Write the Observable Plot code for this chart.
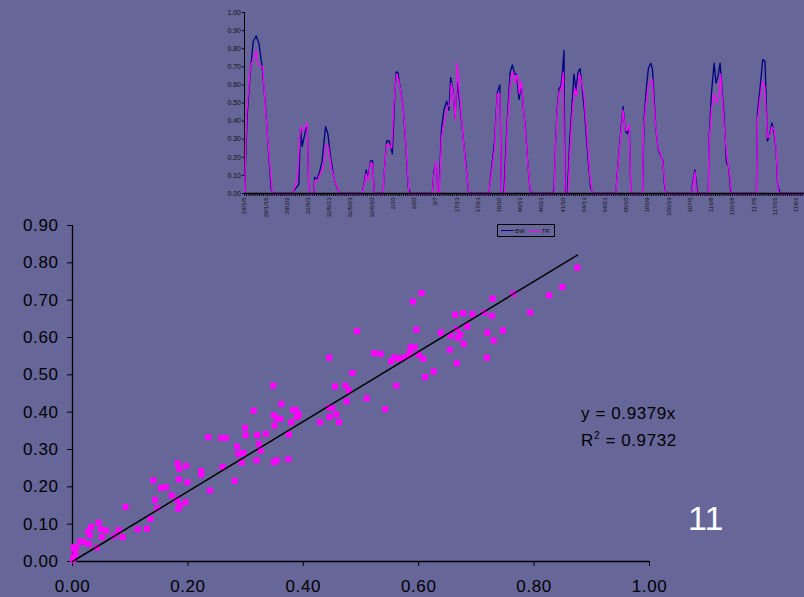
<!DOCTYPE html>
<html><head><meta charset="utf-8">
<script src="https://cdn.jsdelivr.net/npm/d3@7"></script>
<script src="https://cdn.jsdelivr.net/npm/@observablehq/plot@0.6"></script>
<style>
html,body{margin:0;padding:0;background:#666699;}
#wrap{position:relative;width:804px;height:597px;overflow:hidden;background:#666699;font-family:"Liberation Sans",Arial,sans-serif;}
#wrap svg{position:absolute;left:0;top:0;}
#legend{position:absolute;left:497px;top:224px;width:56px;height:11px;border:1px solid #000;font-size:6px;color:#111;display:flex;align-items:center;box-sizing:content-box;}
#legend .ln{display:inline-block;width:13px;height:0;margin:0 1px 0 3px;}
.ann{position:absolute;font-size:17px;line-height:17px;color:#000;letter-spacing:0.6px;white-space:nowrap;}
</style></head><body><div id="wrap"></div>
<script>
// ---------- top time-series chart data ----------
const topTickLabels = ["29/1/5","29/1/15","29/2/2","32/5/3","32/5/13","32/5/23","32/6/10","2/10","2/20","3/7","17/13","17/23","18/10","40/13","40/23","41/10","64/13","64/23","65/10","106/9","106/19","107/6","116/8","116/18","117/5","117/15","118/2"];
const topSteps = 264;
const bwIdx = [0,1.3,2.8,4.1,5.5,6.8,8.3,9.9,11.5,12.6,13.5, 22.6,23.6,25.6,26.4,27.2,28.8,29.6,30.3, 32.7,33.0,34.3,35.5,36.6,38.2,39.3,40.6,42.1,43.7,44.8, 55.5,56.3,57.4,58.2,59.4,60.4,61.2, 65.4,65.7,67.0,68.2,69.7,70.8,71.5,72.3,73.6,74.8,75.9,77.2,78.3, 88.5,89.3,90.4,91.2,91.7,92.8,94.0,95.3,96.4,97.2,98.3,99.2,100.3,101.4,102.7,104.2,105.5,106.3, 115.3,116.0,117.9,119.2,120.4,121.1,122.3,123.6,125.2,126.3,127.4,128.3,129.4,130.5,131.4,132.5,133.6,134.6,135.4, 145.4,145.9,147.2,148.3,149.1,149.8,150.6,151.1,152.2,153.3,154.4,155.3,156.3,157.2,158.2,159.3,160.4,161.9,163.2,164.3, 175.0,175.8,177.4,178.5,179.4,180.5,181.4,182.1, 187.6,188.4,189.5,190.4,191.5,192.3,193.1,193.9,195.0,196.2,197.2,198.1,198.9, 210.7,211.2,212.3,213.1,213.5, 218.6,219.0,220.1,221.4,222.3,223.3,224.2,225.0,226.1,227.2,228.2,229.2,230.0, 241.3,241.8,243.1,244.3,245.4,246.5,247.3,248.6,249.7,250.6,251.3,252.5, 264];
const bwVal = [0,0.44,0.68,0.84,0.87,0.83,0.70,0.48,0.20,0.02,0, 0,0.02,0.05,0.36,0.26,0.35,0.38,0, 0,0.09,0.08,0.125,0.18,0.37,0.33,0.20,0.09,0.03,0, 0,0.05,0.13,0.08,0.18,0.18,0, 0,0.09,0.29,0.29,0.22,0.53,0.67,0.67,0.57,0.48,0.29,0.03,0, 0,0.12,0.17,0,0,0.35,0.46,0.51,0.46,0.64,0.57,0.42,0.61,0.51,0.35,0.18,0.015,0, 0,0.09,0.29,0.56,0.60,0,0,0.35,0.67,0.71,0.66,0.66,0.52,0.60,0.48,0.35,0.16,0.02,0, 0,0.03,0.44,0.58,0.59,0.66,0.79,0,0,0.29,0.49,0.66,0.57,0.67,0.69,0.57,0.44,0.20,0.03,0, 0,0.12,0.35,0.48,0.35,0.33,0.37,0, 0,0.42,0.59,0.69,0.72,0.69,0.53,0.36,0.245,0.21,0.18,0.03,0, 0,0.05,0.13,0.05,0, 0,0.29,0.55,0.72,0.61,0.65,0.72,0.60,0.42,0.17,0.15,0.015,0, 0,0.44,0.59,0.74,0.73,0.29,0.31,0.39,0.33,0.24,0.05,0, 0];
const trIdx = [0,1.0,2.8,4.4,5.5,6.4,8.6,9.9,11.8,13.1, 22.6,23.6,25.0,26.4,27.5,28.5,29.6,30.3, 32.7,33.0,34.3,35.8,37.1,38.5,39.5,41.0,42.9,44.8, 55.5,56.3,57.4,58.3,59.4,60.5,61.2, 65.4,65.7,67.0,68.2,69.4,70.4,71.7,72.8,74.7,75.9,77.5, 88.5,89.3,90.4,91.2,91.8,92.9,94.3,95.6,96.9,97.5,98.4,99.4,100.3,101.3,102.7,104.2,105.8, 115.3,116.0,117.9,119.2,120.4,121.1,122.6,123.9,125.5,126.6,127.5,128.6,129.6,130.5,131.4,132.5,133.8,134.9, 145.9,147.2,148.3,149.4,150.3,151.0,152.5,153.5,154.6,155.7,156.6,157.9,158.8,160.0,161.3,162.9,164.0, 175.0,175.8,177.4,178.5,179.4,180.5,181.4,182.1, 187.6,188.1,189.2,190.3,191.2,192.3,193.1,193.9,195.0,196.2,197.3,198.6, 210.7,211.2,212.3,213.2, 218.6,219.0,220.1,221.4,222.6,223.8,224.5,225.5,226.4,227.7,228.6,229.6, 241.3,241.8,243.1,244.3,245.3,246.5,247.4,248.6,249.7,250.6,251.6,252.5, 264];
const trVal = [0,0.44,0.70,0.75,0.79,0.71,0.70,0.46,0.18,0, 0,0.03,0.10,0.37,0.35,0.36,0.39,0, 0,0.07,0.07,0.11,0.14,0.27,0.26,0.14,0.06,0, 0,0.04,0.11,0.07,0.17,0.16,0, 0,0.09,0.27,0.27,0.25,0.49,0.66,0.62,0.49,0.31,0, 0,0.10,0.18,0,0,0.31,0.40,0.48,0.49,0.61,0.55,0.41,0.72,0.57,0.36,0.16,0, 0,0.07,0.25,0.55,0.55,0,0,0.38,0.64,0.67,0.61,0.66,0.55,0.62,0.49,0.33,0.13,0, 0,0.42,0.56,0.58,0.67,0,0,0.25,0.46,0.58,0.54,0.66,0.62,0.55,0.35,0.09,0, 0,0.11,0.33,0.46,0.35,0.35,0.38,0, 0,0.35,0.49,0.59,0.61,0.63,0.48,0.37,0.25,0.22,0.16,0, 0,0.03,0.12,0, 0,0.27,0.46,0.55,0.50,0.55,0.66,0.48,0.33,0.18,0.12,0, 0,0.40,0.53,0.62,0.59,0.31,0.31,0.37,0.35,0.25,0.015,0, 0];

// ---------- scatter data (BW on x, TR on y) ----------
const scatterX = [0.002,0.003,0.005,0.001,0.001,0.006,0.013,0.018,0.028,0.027,0.030,0.032,0.042,0.045,0.049,0.051,0.058,0.072,0.080,0.087,0.092,0.113,0.129,0.135,0.140,0.143,0.147,0.153,0.162,0.172,0.181,0.182,0.185,0.184,0.183,0.186,0.196,0.197,0.199,0.223,0.223,0.238,0.235,0.258,0.266,0.260,0.281,0.285,0.287,0.296,0.293,0.299,0.300,0.314,0.320,0.323,0.319,0.326,0.335,0.349,0.354,0.349,0.350,0.355,0.362,0.360,0.375,0.374,0.379,0.382,0.387,0.389,0.392,0.348,0.605,0.590,0.493,0.596,0.638,0.654,0.523,0.534,0.445,0.552,0.558,0.566,0.571,0.580,0.586,0.593,0.585,0.600,0.608,0.626,0.611,0.561,0.485,0.455,0.473,0.479,0.475,0.510,0.542,0.445,0.450,0.445,0.457,0.429,0.462,0.875,0.849,0.826,0.764,0.728,0.793,0.663,0.677,0.693,0.714,0.727,0.666,0.684,0.655,0.672,0.668,0.719,0.746,0.730,0.678,0.666,0.718];
const scatterY = [0.038,0.034,0.019,0.011,0.004,0.038,0.054,0.052,0.047,0.080,0.070,0.092,0.037,0.104,0.086,0.065,0.083,0.068,0.084,0.065,0.146,0.086,0.088,0.114,0.217,0.165,0.143,0.197,0.199,0.177,0.165,0.263,0.248,0.220,0.141,0.150,0.159,0.256,0.212,0.242,0.233,0.190,0.333,0.331,0.331,0.253,0.216,0.308,0.288,0.291,0.265,0.358,0.338,0.404,0.339,0.315,0.271,0.297,0.342,0.266,0.271,0.392,0.364,0.382,0.422,0.382,0.340,0.274,0.373,0.406,0.406,0.387,0.394,0.471,0.719,0.696,0.617,0.621,0.613,0.567,0.558,0.556,0.546,0.536,0.547,0.543,0.545,0.549,0.574,0.574,0.561,0.554,0.543,0.509,0.494,0.471,0.505,0.469,0.471,0.458,0.429,0.437,0.408,0.413,0.411,0.387,0.394,0.373,0.373,0.787,0.735,0.713,0.717,0.704,0.667,0.661,0.665,0.663,0.667,0.658,0.623,0.630,0.605,0.608,0.599,0.613,0.619,0.592,0.583,0.531,0.546];
const trendSlope = 0.9379;
const trendR2 = 0.9732;
const scatterXTicks = [0,0.2,0.4,0.6,0.8,1.0];
const scatterYTicks = [0,0.1,0.2,0.3,0.4,0.5,0.6,0.7,0.8,0.9];
const topYTicks = [0,0.1,0.2,0.3,0.4,0.5,0.6,0.7,0.8,0.9,1.0];
const slideNumber = "11";

const fmt = d3.format(".2f");
const bwData = bwIdx.map((i,k)=>({i, v: bwVal[k]}));
const trData = trIdx.map((i,k)=>({i, v: trVal[k]}));
const pts = scatterX.map((x,k)=>({x, y: scatterY[k]}));
const xMax = d3.max(scatterX);
const trend = [{x:0, y:0}, {x:xMax, y:trendSlope*xMax}];

const wrap = document.getElementById("wrap");

const topChart = Plot.plot({
  width: 804, height: 240,
  marginLeft: 244, marginRight: 0, marginTop: 12, marginBottom: 47,
  style: {background: "transparent", fontFamily: "Liberation Sans, Arial, sans-serif", fontSize: "6px", color: "#111", overflow: "visible"},
  x: {domain: [0, topSteps], label: null},
  y: {domain: [0, 1], label: null},
  marks: [
    Plot.axisY({ticks: topYTicks, tickFormat: fmt, tickSize: 2, tickPadding: 1.5, fontSize: 7, label: null, stroke: "#000"}),
    Plot.axisX({ticks: d3.range(0, topSteps + 1, 1), tickFormat: () => "", tickSize: 3, label: null, stroke: "#000"}),
    Plot.axisX({ticks: d3.range(0, topTickLabels.length * 10, 10), tickFormat: d => topTickLabels[Math.round(d / 10)], tickRotate: -90, tickSize: 0, tickPadding: 4, fontSize: 6, label: null}),
    Plot.ruleX([0], {stroke: "#000", strokeWidth: 1}),
    Plot.line(bwData, {x: "i", y: "v", stroke: "#000080", strokeWidth: 1.3}),
    Plot.line(trData, {x: "i", y: "v", stroke: "#ff00ff", strokeWidth: 1.3}),
    Plot.ruleY([0], {stroke: "#000", strokeWidth: 1.5})
  ]
});

const scChart = Plot.plot({
  width: 804, height: 597,
  marginLeft: 72, marginRight: 155, marginTop: 225, marginBottom: 36,
  style: {background: "transparent", fontFamily: "Liberation Sans, Arial, sans-serif", fontSize: "17px", letterSpacing: "0.6px", color: "#000", overflow: "visible"},
  x: {domain: [0, 1], label: null},
  y: {domain: [0, 0.9], label: null},
  marks: [
    Plot.axisX({ticks: scatterXTicks, tickFormat: fmt, tickSize: 5, tickPadding: 13, label: null, stroke: "#000"}),
    Plot.axisY({ticks: scatterYTicks, tickFormat: fmt, tickSize: 5, tickPadding: 9, label: null, stroke: "#000"}),
    Plot.ruleX([0], {stroke: "#000", strokeWidth: 1.3}),
    Plot.ruleY([0], {stroke: "#000", strokeWidth: 1.3}),
    Plot.dot(pts, {x: "x", y: "y", symbol: "square", r: 3.4, fill: "#ff00ff", stroke: null}),
    Plot.line(trend, {x: "x", y: "y", stroke: "#000", strokeWidth: 1.5})
  ]
});

wrap.appendChild(scChart);
wrap.appendChild(topChart);

const legend = document.createElement("div");
legend.id = "legend";
legend.innerHTML = '<span class="ln" style="border-top:1.2px solid #000080"></span><span>BW</span><span class="ln" style="border-top:1.2px solid #ff00ff"></span><span>TR</span>';
wrap.appendChild(legend);

const eq1 = document.createElement("div");
eq1.className = "ann";
eq1.style.left = "581px"; eq1.style.top = "405px";
eq1.textContent = "y = " + trendSlope.toFixed(4) + "x";
wrap.appendChild(eq1);

const eq2 = document.createElement("div");
eq2.className = "ann";
eq2.style.left = "581px"; eq2.style.top = "432px";
eq2.innerHTML = 'R<span style="font-size:10px;position:relative;top:-7px;">2</span> = ' + trendR2.toFixed(4);
wrap.appendChild(eq2);

const num = document.createElement("div");
num.className = "ann";
num.style.left = "688px"; num.style.top = "501px";
num.style.fontSize = "34px"; num.style.lineHeight = "34px"; num.style.color = "#fff"; num.style.letterSpacing = "0";
num.textContent = slideNumber;
wrap.appendChild(num);
</script>
</body></html>
